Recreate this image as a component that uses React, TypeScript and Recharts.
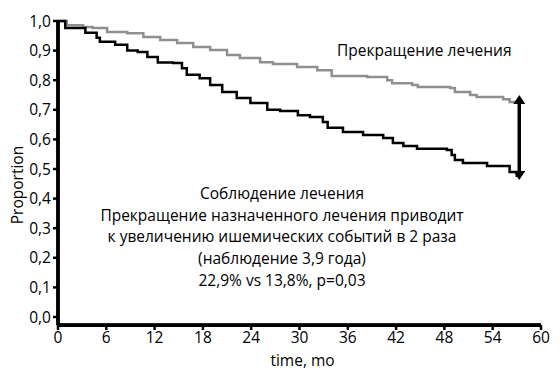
import { LineChart, Line, XAxis, YAxis, ReferenceLine } from "recharts";

const xTicks = [0, 6, 12, 18, 24, 30, 36, 42, 48, 54, 60];
const yTicks = [0, 0.1, 0.2, 0.3, 0.4, 0.5, 0.6, 0.7, 0.8, 0.9, 1.0];

// Соблюдение лечения (black)
const adherTime = [0, 0.9, 3.4, 4.8, 5.2, 7.1, 8.6, 9.9, 11.1, 12.4, 14.3, 15.4, 16.0, 17.6, 18.9, 20.4, 22.2, 23.9, 26.0, 27.6, 29.8, 31.3, 32.9, 33.5, 35.4, 37.9, 40.4, 41.6, 42.9, 44.6, 48.3, 48.9, 49.3, 50.3, 53.3, 56.1, 57.0];
const adherSurv = [1.0, 0.976, 0.96, 0.943, 0.93, 0.92, 0.9, 0.895, 0.878, 0.86, 0.858, 0.84, 0.818, 0.807, 0.784, 0.76, 0.74, 0.723, 0.7, 0.696, 0.682, 0.676, 0.659, 0.639, 0.625, 0.615, 0.605, 0.588, 0.578, 0.568, 0.564, 0.547, 0.53, 0.52, 0.51, 0.49, 0.473];

// Прекращение лечения (gray)
const stopTime = [0, 1.1, 3.1, 4.3, 6.1, 8.6, 10.6, 12.7, 14.8, 16.8, 18.9, 21.0, 22.6, 25.1, 26.7, 29.7, 32.2, 34.0, 38.4, 40.9, 41.5, 44.0, 44.7, 48.7, 49.3, 51.2, 52.0, 55.3, 56.1, 56.8];
const stopSurv = [1.0, 0.986, 0.98, 0.976, 0.963, 0.959, 0.946, 0.936, 0.926, 0.912, 0.902, 0.885, 0.875, 0.861, 0.855, 0.845, 0.834, 0.814, 0.811, 0.8, 0.79, 0.784, 0.777, 0.774, 0.76, 0.75, 0.743, 0.736, 0.726, 0.72];

const arrowAt = 57.3;
const arrowTop = 0.75;
const arrowBottom = 0.463;
// the x axis sits a little below 0,0
const axisFloor = -0.028;

const adherData = adherTime.map((t, i) => ({ t, v: adherSurv[i] }));
const stopData = stopTime.map((t, i) => ({ t, v: stopSurv[i] }));

const FONT = "'Open Sans', sans-serif";
const fmt = (v: number) => v.toFixed(1).replace(".", ",");

function DoubleArrow(props: any) {
  const { x1, y1, x2, y2 } = props;
  const x = x1;
  const top = Math.min(y1, y2);
  const bot = Math.max(y1, y2);
  const h = 9;
  const w = 6;
  return (
    <g>
      <line x1={x} y1={top + h - 1} x2={x2} y2={bot - h + 1} stroke="#000" strokeWidth={3.5} />
      <polygon points={`${x},${top} ${x - w},${top + h} ${x + w},${top + h}`} fill="#000" />
      <polygon points={`${x},${bot} ${x - w},${bot - h} ${x + w},${bot - h}`} fill="#000" />
    </g>
  );
}

export default function App() {
  return (
    <div style={{ position: "absolute", left: 0, top: 0, width: 560, height: 381, background: "#fff", fontFamily: FONT, color: "#000" }}>
      <LineChart width={560} height={381} margin={{ top: 21, right: 19, left: 0, bottom: 0 }}>
        <XAxis
          type="number"
          dataKey="t"
          domain={[0, 60]}
          ticks={xTicks}
          allowDuplicatedCategory={false}
          height={56}
          axisLine={{ stroke: "#000", strokeWidth: 3.5 }}
          tickLine={{ stroke: "#000", strokeWidth: 2.5 }}
          tickSize={5}
          tick={{ fill: "#000", fontSize: 15.5, fontFamily: FONT }}
        />
        <YAxis
          type="number"
          domain={[0, 1]}
          ticks={yTicks}
          width={58}
          padding={{ top: 0, bottom: 8 }}
          tickFormatter={fmt}
          axisLine={{ stroke: "#000", strokeWidth: 3.5 }}
          tickLine={{ stroke: "#000", strokeWidth: 2.5 }}
          tickSize={5}
          tickMargin={2}
          tick={{ fill: "#000", fontSize: 15.5, fontFamily: FONT }}
        />
        <ReferenceLine
          segment={[{ x: 0, y: axisFloor }, { x: 0, y: 1 }]}
          stroke="#000"
          strokeWidth={3.5}
          ifOverflow="visible"
        />
        <ReferenceLine
          segment={[{ x: 0, y: axisFloor }, { x: 60, y: axisFloor }]}
          stroke="#000"
          strokeWidth={3.5}
          ifOverflow="visible"
        />
        <Line
          data={stopData}
          dataKey="v"
          type="stepAfter"
          stroke="#8f8f8f"
          strokeWidth={2.5}
          dot={false}
          isAnimationActive={false}
        />
        <Line
          data={adherData}
          dataKey="v"
          type="stepAfter"
          stroke="#000"
          strokeWidth={2.5}
          dot={false}
          isAnimationActive={false}
        />
        <ReferenceLine
          segment={[{ x: arrowAt, y: arrowTop }, { x: arrowAt, y: arrowBottom }]}
          shape={DoubleArrow}
        />
      </LineChart>
      <div style={{ position: "absolute", left: 0, top: 349, width: 605, textAlign: "center", fontSize: 15.5 }}>
        time, mo
      </div>
      <div
        style={{
          position: "absolute",
          left: 17,
          top: 185,
          transform: "translate(-50%, -50%) rotate(-90deg)",
          fontSize: 15.5,
          whiteSpace: "nowrap",
        }}
      >
        Proportion
      </div>
      <div style={{ position: "absolute", left: 337, top: 39, fontSize: 15.5, whiteSpace: "nowrap" }}>
        Прекращение лечения
      </div>
      <div
        style={{
          position: "absolute",
          left: 82,
          top: 183,
          width: 400,
          textAlign: "center",
          fontSize: 15.5,
          lineHeight: "21.7px",
          whiteSpace: "nowrap",
        }}
      >
        <div>Соблюдение лечения</div>
        <div>Прекращение назначенного лечения приводит</div>
        <div>к увеличению ишемических событий в 2 раза</div>
        <div>(наблюдение 3,9 года)</div>
        <div>22,9% vs 13,8%, p=0,03</div>
      </div>
    </div>
  );
}
